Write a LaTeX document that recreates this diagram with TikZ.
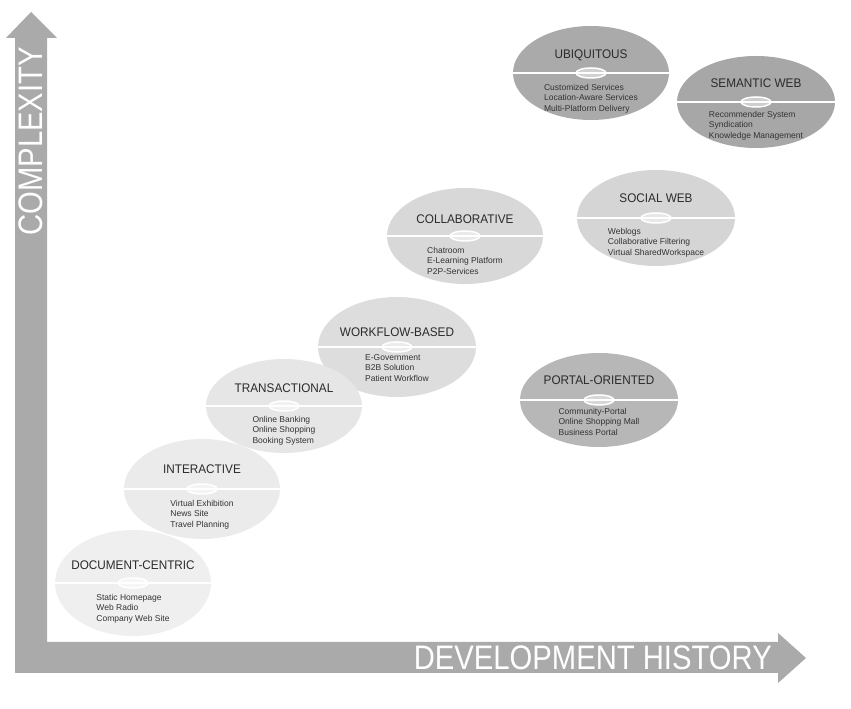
\documentclass[tikz,border=0pt]{standalone}
\usepackage{fontspec}
\setmainfont{Liberation Sans}
\newfontfamily\axisfont[FakeStretch=0.86]{Liberation Sans}
\newfontfamily\titlefont[FakeStretch=0.94]{Liberation Sans}
\usetikzlibrary{positioning,shapes.geometric}

\definecolor{axisgray}{HTML}{AAAAAA}
\definecolor{titlegray}{HTML}{2B2B2B}
\definecolor{itemgray}{HTML}{333333}
\definecolor{docgray}{HTML}{EFEFEF}
\definecolor{intergray}{HTML}{EBEBEB}
\definecolor{transgray}{HTML}{E6E6E6}
\definecolor{workgray}{HTML}{DDDDDD}
\definecolor{collabgray}{HTML}{D8D8D8}
\definecolor{socialgray}{HTML}{D5D5D5}
\definecolor{portalgray}{HTML}{B7B7B7}
\definecolor{ubiqgray}{HTML}{AAAAAA}
\definecolor{semgray}{HTML}{A7A7A7}

\begin{document}
\begin{tikzpicture}[x=1pt, y=1pt, node distance=13pt]

    \tikzstyle{phase} = [ellipse, minimum width=156pt, minimum height=96pt, inner sep=0pt, path picture={
        \draw [white, line width=2.5pt] (path picture bounding box.west) -- (path picture bounding box.east);
        \draw [white, line width=1.5pt, fill=white, fill opacity=0.45] (path picture bounding box.center) ellipse [x radius=15pt, y radius=5pt];
    }]
    \tikzstyle{phasetitle} = [inner sep=0pt, text=titlegray, font=\titlefont\fontsize{12.5}{14}\selectfont]
    \tikzstyle{phaseitems} = [inner sep=0pt, align=left, text=itemgray, font=\fontsize{8.5}{10.5}\selectfont]
    \tikzstyle{axislabel} = [inner sep=0pt, text=white, font=\axisfont\fontsize{34}{34}\selectfont]

    \useasboundingbox (0,0) rectangle (851,709);

    % axes
    \fill [axisgray] (15,36) -- (778,36) -- (778,26) -- (806,51) -- (778,76) -- (778,67) -- (47,67) -- (47,671) -- (57,671) -- (31,697) -- (6,671) -- (15,671) -- cycle;
    \node (Complexity) [axislabel, rotate=90, anchor=east] at (31,662) {COMPLEXITY};
    \node (History) [axislabel, anchor=east] at (772,51.5) {DEVELOPMENT HISTORY};

    % ----- ----- ----- ----- ----- ----- ----- ----- -----
    % later stages first, so the earlier ones lie on top

    \node (Semantic) [phase, fill=semgray, minimum width=158pt, minimum height=92pt] at (756,607) {};
    \node (Semantic_title) [phasetitle, above=14pt of Semantic.center] {SEMANTIC WEB};
    \node (Semantic_items) [phaseitems, below=9pt of Semantic.center] {Recommender System\\Syndication\\Knowledge Management};

    \node (Ubiq) [phase, fill=ubiqgray, minimum height=94pt] at (591,636) {};
    \node (Ubiq_title) [phasetitle, above=12pt of Ubiq.center] {UBIQUITOUS};
    \node (Ubiq_items) [phaseitems, below=11pt of Ubiq.center] {Customized Services\\Location-Aware Services\\Multi-Platform Delivery};

    \node (Portal) [phase, fill=portalgray, minimum width=158pt, minimum height=94pt] at (599,309) {};
    \node (Portal_title) [phasetitle, above=15pt of Portal.center] {PORTAL-ORIENTED};
    \node (Portal_items) [phaseitems, below=8pt of Portal.center] {Community-Portal\\Online Shopping Mall\\Business Portal};

    \node (Social) [phase, fill=socialgray, minimum width=158pt, minimum height=96pt] at (656,491) {};
    \node (Social_title) [phasetitle, above=15pt of Social.center] {SOCIAL WEB};
    \node (Social_items) [phaseitems, below=10pt of Social.center] {Weblogs\\Collaborative Filtering\\Virtual SharedWorkspace};

    \node (Collab) [phase, fill=collabgray] at (465,473) {};
    \node (Collab_title) [phasetitle, above=12pt of Collab.center] {COLLABORATIVE};
    \node (Collab_items) [phaseitems, below=11pt of Collab.center] {Chatroom\\E-Learning Platform\\P2P-Services};

    \node (Workflow) [phase, fill=workgray, minimum width=158pt, minimum height=100pt] at (397,362) {};
    \node (Workflow_title) [phasetitle, above=10pt of Workflow.center] {WORKFLOW-BASED};
    \node (Workflow_items) [phaseitems, below=7pt of Workflow.center] {E-Government\\B2B Solution\\Patient Workflow};

    \node (Trans) [phase, fill=transgray, minimum height=94pt] at (284,303) {};
    \node (Trans_title) [phasetitle, above=of Trans.center] {TRANSACTIONAL};
    \node (Trans_items) [phaseitems, below=10pt of Trans.center] {Online Banking\\Online Shopping\\Booking System};

    \node (Inter) [phase, fill=intergray, minimum height=100pt] at (202,220) {};
    \node (Inter_title) [phasetitle, above=15pt of Inter.center] {INTERACTIVE};
    \node (Inter_items) [phaseitems, below=11pt of Inter.center] {Virtual Exhibition\\News Site\\Travel Planning};

    \node (Doc) [phase, fill=docgray, minimum height=106pt] at (133,126) {};
    \node (Doc_title) [phasetitle, above=of Doc.center] {DOCUMENT-CENTRIC};
    \node (Doc_items) [phaseitems, below=11pt of Doc.center] {Static Homepage\\Web Radio\\Company Web Site};
\end{tikzpicture}
\end{document}
